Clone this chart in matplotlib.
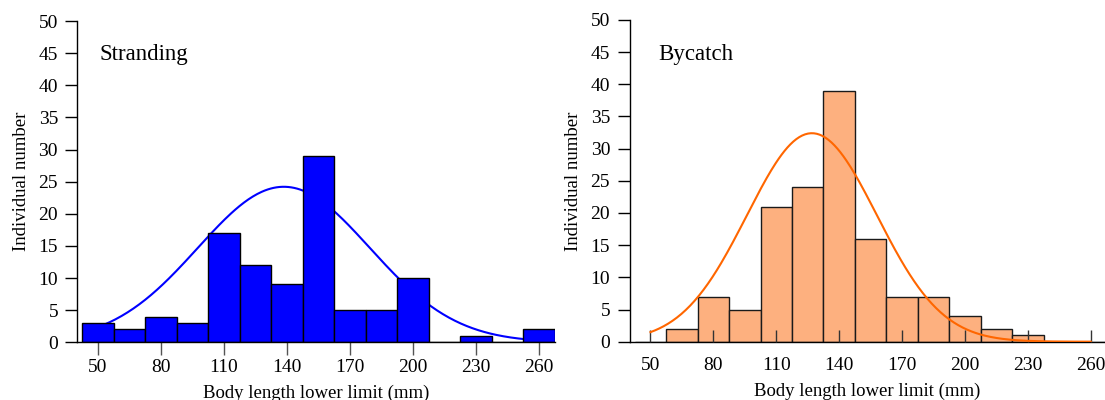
import numpy as np
import matplotlib
matplotlib.use("Agg")
import matplotlib.pyplot as plt

plt.rcParams["font.family"] = ["Liberation Serif", "DejaVu Serif"]

# Bin lower limits (mm), bin width 15
lengths = [50, 65, 80, 95, 110, 125, 140, 155, 170, 185, 200, 215, 230, 245, 260]
stranding = [3, 2, 4, 3, 17, 12, 9, 29, 5, 5, 10, 0, 1, 0, 2]
bycatch = [0, 2, 7, 5, 21, 24, 39, 16, 7, 7, 4, 2, 1, 0, 0]
tick_values = [50, 80, 110, 140, 170, 200, 230, 260]

# Fitted normal curves: (mean, sd, peak height)
stranding_fit = (138.5, 41.0, 24.2)
bycatch_fit = (127.0, 31.0, 32.4)

BIN_W = 15


def fit_curve(params, x):
    mu, sd, peak = params
    return peak * np.exp(-0.5 * ((x - mu) / sd) ** 2)


fig = plt.figure(figsize=(11.05, 4.0), dpi=100)
ax1 = fig.add_axes([0.0701, 0.1443, 0.4318, 0.8032])
ax2 = fig.add_axes([0.5697, 0.1458, 0.4303, 0.8043])

xs = np.linspace(50, 260, 300)

# Stranding: curve sits behind the bars, ticks point outward
ax1.plot(xs, fit_curve(stranding_fit, xs), color="#0000FF", lw=1.5, zorder=1)
ax1.bar(lengths, stranding, width=BIN_W, color="#0000FF",
        edgecolor="black", linewidth=1.0, zorder=2)
ax1.set_xlim(40.2, 267.5)
ax1.tick_params(axis="x", direction="out", length=9, width=1.0,
                color="#555555", pad=3)
ax1.text(0.047, 0.897, "Stranding", transform=ax1.transAxes, fontsize=16.5,
         va="center")

# Bycatch: curve drawn over the bars, ticks point inward
ax2.bar(lengths, bycatch, width=BIN_W, color="#FDB07F",
        edgecolor="#1a1a1a", linewidth=1.0, zorder=2)
ax2.plot(xs, fit_curve(bycatch_fit, xs), color="#FF6600", lw=1.5, zorder=3)
ax2.set_xlim(40.0, 266.8)
ax2.tick_params(axis="x", direction="in", length=9, width=1.0,
                color="#333333", pad=11)
ax2.set_axisbelow(False)
ax2.text(0.06, 0.894, "Bycatch", transform=ax2.transAxes, fontsize=16.5,
         va="center")

for ax in (ax1, ax2):
    ax.set_ylim(0, 50)
    ax.set_yticks(range(0, 51, 5))
    ax.set_xticks(tick_values)
    ax.tick_params(axis="y", direction="out", length=9, width=1.0, pad=5)
    ax.tick_params(labelsize=14)
    ax.spines["top"].set_visible(False)
    ax.spines["right"].set_visible(False)
    ax.spines["left"].set_linewidth(1.0)
    ax.spines["bottom"].set_linewidth(1.0)
    ax.set_xlabel("Body length lower limit (mm)", fontsize=13.5, labelpad=6)
    ax.set_ylabel("Individual number", fontsize=13.5, labelpad=6)

fig.savefig("out.png", dpi=100)
